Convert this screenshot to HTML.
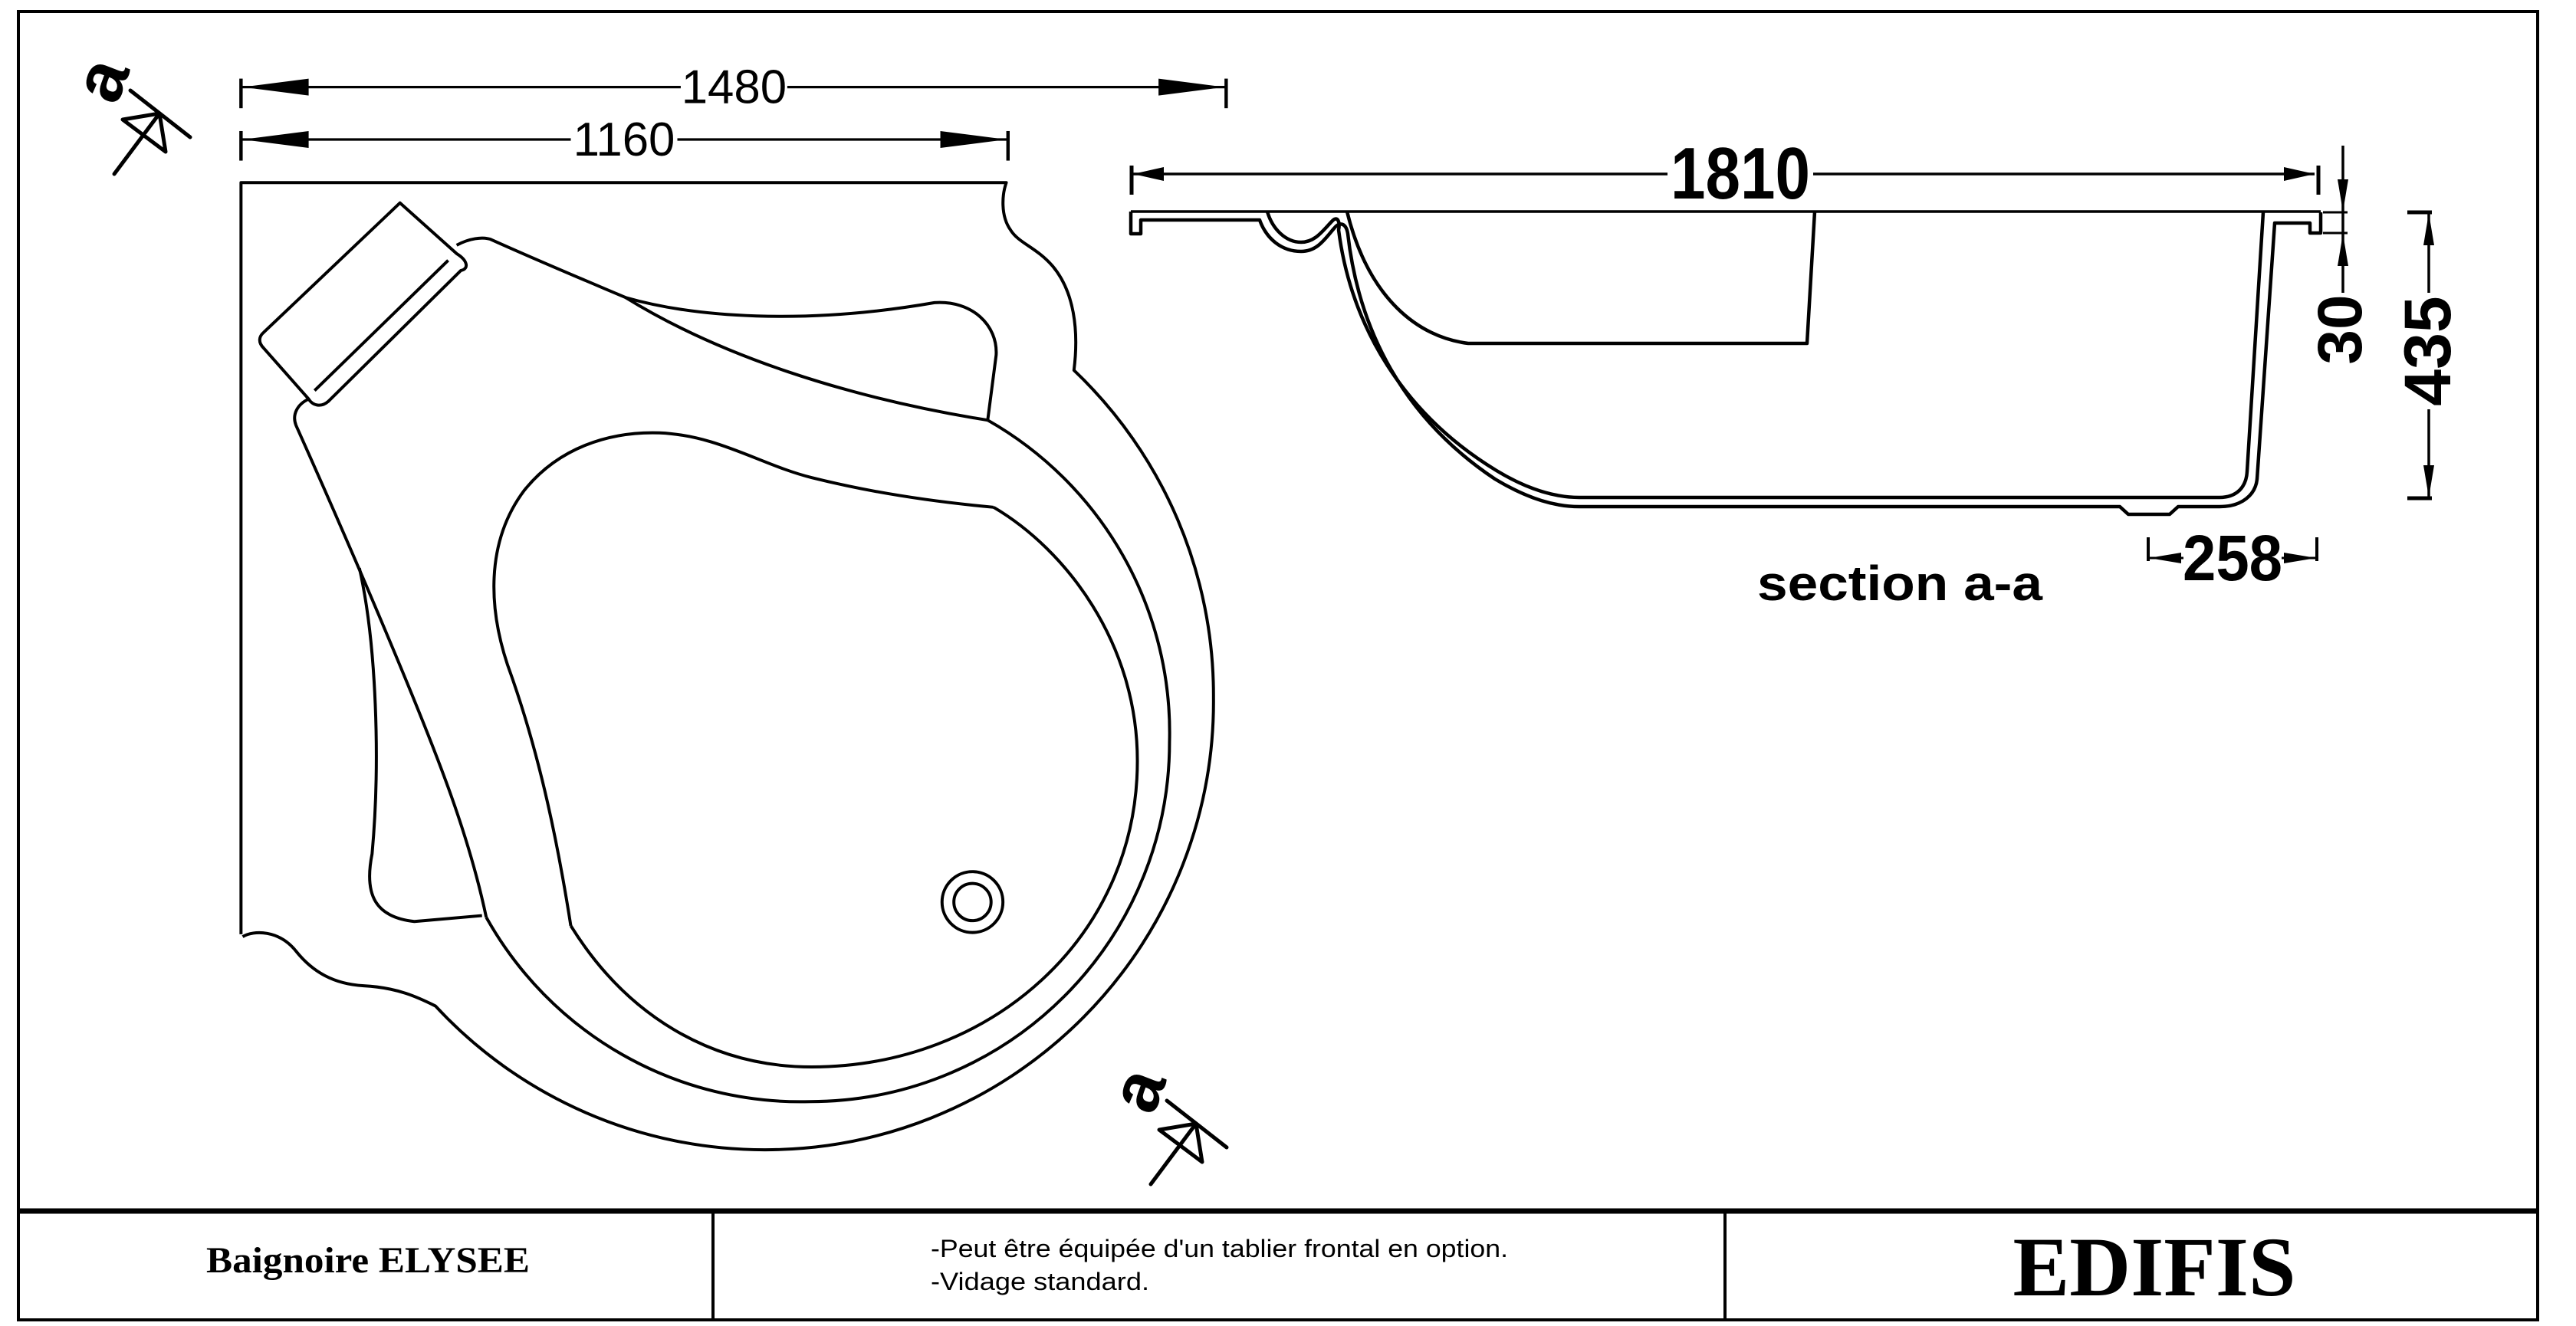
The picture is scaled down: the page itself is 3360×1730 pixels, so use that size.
<!DOCTYPE html>
<html><head><meta charset="utf-8"><style>html,body{margin:0;padding:0;background:#fff}svg{display:block}</style></head>
<body>
<svg width="3360" height="1730" viewBox="0 0 3360 1730" xmlns="http://www.w3.org/2000/svg" font-family="Liberation Sans, Arial, sans-serif">
<rect x="0" y="0" width="3360" height="1730" fill="#fff"/>
<rect x="24" y="15" width="3286" height="1707" fill="none" stroke="#000" stroke-width="4"/>
<line x1="24" y1="1580" x2="3310" y2="1580" stroke="#000" stroke-width="7"/>
<line x1="930" y1="1580" x2="930" y2="1722" stroke="#000" stroke-width="4"/>
<line x1="2250" y1="1580" x2="2250" y2="1722" stroke="#000" stroke-width="4"/>
<text x="480" y="1660" font-family="Liberation Serif, serif" font-weight="bold" font-size="48" text-anchor="middle" textLength="422" lengthAdjust="spacingAndGlyphs">Baignoire ELYSEE</text>
<text x="1214" y="1640" font-size="32" textLength="753" lengthAdjust="spacingAndGlyphs">-Peut être équipée d'un tablier frontal en option.</text>
<text x="1214" y="1683" font-size="32" textLength="285" lengthAdjust="spacingAndGlyphs">-Vidage standard.</text>
<text x="2810" y="1690" font-family="Liberation Serif, serif" font-weight="bold" font-size="110" text-anchor="middle" textLength="369" lengthAdjust="spacingAndGlyphs">EDIFIS</text>

<g id="sec" stroke="#000" stroke-width="5" fill="none" stroke-linecap="round">
<line x1="170" y1="118" x2="248" y2="179"/>
<line x1="149" y1="227" x2="208" y2="148"/>
<polygon points="160,156 208,148 216,198" stroke-linejoin="round"/>
<text x="0" y="0" transform="translate(132,104) rotate(-69)" font-size="92" font-weight="bold" text-anchor="middle" dominant-baseline="central" fill="#000" stroke="none">a</text>
</g>
<use href="#sec" transform="translate(1352,1318)"/>

<g transform="scale(1.103)" fill="none" stroke="#000" stroke-width="3.6" stroke-linejoin="round">
<line x1="285" y1="103" x2="1450" y2="103" stroke-width="3"/>
<line x1="285" y1="93" x2="285" y2="128" stroke-width="4"/>
<line x1="1450" y1="93" x2="1450" y2="128" stroke-width="4"/>
<polygon points="287,103 365,93 365,113" fill="#000" stroke="none"/>
<polygon points="1448,103 1370,93 1370,113" fill="#000" stroke="none"/>
<rect x="805" y="78" width="126" height="48" fill="#fff" stroke="none"/>
<text x="868" y="122" font-size="56" text-anchor="middle" fill="#000" stroke="none">1480</text>
<line x1="285" y1="165" x2="1192" y2="165" stroke-width="3"/>
<line x1="285" y1="155" x2="285" y2="190" stroke-width="4"/>
<line x1="1192" y1="155" x2="1192" y2="190" stroke-width="4"/>
<polygon points="287,165 365,155 365,175" fill="#000" stroke="none"/>
<polygon points="1190,165 1112,155 1112,175" fill="#000" stroke="none"/>
<rect x="675" y="140" width="126" height="48" fill="#fff" stroke="none"/>
<text x="738" y="184" font-size="56" text-anchor="middle" fill="#000" stroke="none">1160</text>
<path d="M285,1105 L285,216 L1190,216 C1185,230 1183,255 1195,272 C1205,288 1225,292 1245,315 C1270,345 1276,390 1270,438 A530,530 0 0 1 1435,825 A530,530 0 0 1 905,1360 A530,530 0 0 1 515,1190 C495,1180 470,1168 430,1166 C395,1164 370,1150 350,1125 C330,1100 300,1100 287,1108"/>
<path d="M1168,497 A425,425 0 0 1 1383,878 A425,425 0 0 1 958,1303 A425,425 0 0 1 575,1085"/>
<path d="M1175,600 C1260,650 1345,760 1345,900 C1345,1110 1170,1262 960,1262 C840,1262 740,1200 675,1095"/>
<path d="M675,1095 C660,1000 640,900 605,800 C575,720 575,640 620,580 C660,530 720,510 780,512 C850,515 900,550 960,565 C1040,585 1120,595 1175,600"/>
<path d="M540,290 C555,282 570,280 580,283 C640,310 700,335 740,352 C820,375 950,385 1105,358 C1150,355 1180,385 1178,420 L1168,497"/>
<path d="M740,352 C850,420 1000,470 1168,497"/>
<path d="M473,240 L540,300 C553,308 555,318 545,320 L388,475 C380,482 370,480 365,472 L312,412 C305,405 306,398 312,393 Z"/>
<path d="M530,308 L372,462"/>
<path d="M365,472 C352,478 345,490 350,503 C380,570 420,660 470,780 C520,900 555,990 575,1085"/>
<path d="M425,672 C445,760 450,900 440,1010 C430,1060 445,1085 490,1090 L570,1083"/>
<circle cx="1150" cy="1067" r="36"/>
<circle cx="1150" cy="1067" r="22"/>
</g>

<g fill="none" stroke="#000" stroke-width="4.5" stroke-linejoin="round">
<line x1="1478" y1="227" x2="3019" y2="227" stroke-width="3.5"/>
<line x1="1476" y1="216" x2="1476" y2="254" stroke-width="5"/>
<line x1="3024" y1="216" x2="3024" y2="254" stroke-width="5"/>
<polygon points="1478,227 1518,218 1518,236" fill="#000" stroke="none"/>
<polygon points="3019,227 2979,218 2979,236" fill="#000" stroke="none"/>
<rect x="2175" y="185" width="190" height="80" fill="#fff" stroke="none"/>
<text x="2270" y="259" font-family="Liberation Sans Narrow, Liberation Sans, sans-serif" font-weight="bold" font-size="96" text-anchor="middle" textLength="182" lengthAdjust="spacingAndGlyphs" fill="#000" stroke="none">1810</text>

<line x1="1475" y1="276" x2="3027" y2="276" stroke-width="3.5"/>
<path d="M1475,276 L1475,305 L1488,305 L1488,287 L1643,287 C1652,312 1672,328 1697,328 C1718,328 1728,312 1740,298 C1748,288 1756,292 1758,305 C1772,430 1830,545 1950,625 C1995,652 2030,661 2060,661 L2765,661 L2776,671 L2830,671 L2841,661 L2895,661 C2925,661 2942,645 2944,625 L2967,291 L3013,291 L3013,304 L3027,304 L3027,277"/>
<path d="M1653,276 C1660,300 1678,316 1697,316 C1716,316 1726,300 1738,288 C1745,281 1748,290 1746,300 C1762,425 1830,540 1952,614 C1995,640 2030,649 2060,649 L2895,649 C2918,649 2930,635 2931,615 L2952,277"/>
<path d="M1757,276 C1785,390 1850,440 1915,448 L2357,448 L2367,276"/>

<line x1="3030" y1="277" x2="3062" y2="277" stroke-width="3"/>
<line x1="3030" y1="304" x2="3062" y2="304" stroke-width="3"/>
<line x1="3056" y1="190" x2="3056" y2="382" stroke-width="3.5"/>
<polygon points="3056,276 3049,234 3063,234" fill="#000" stroke="none"/>
<polygon points="3056,305 3049,347 3063,347" fill="#000" stroke="none"/>
<text x="0" y="0" transform="translate(3080,430) rotate(-90)" font-weight="bold" font-size="82" text-anchor="middle" fill="#000" stroke="none">30</text>
<line x1="3140" y1="277" x2="3172" y2="277" stroke-width="5"/>
<line x1="3140" y1="650" x2="3172" y2="650" stroke-width="5"/>
<line x1="3168" y1="277" x2="3168" y2="382" stroke-width="3.5"/>
<line x1="3168" y1="534" x2="3168" y2="650" stroke-width="3.5"/>
<polygon points="3168,278 3161,320 3175,320" fill="#000" stroke="none"/>
<polygon points="3168,649 3161,607 3175,607" fill="#000" stroke="none"/>
<text x="0" y="0" transform="translate(3196,458) rotate(-90)" font-weight="bold" font-size="86" text-anchor="middle" fill="#000" stroke="none">435</text>
<line x1="2802" y1="701" x2="2802" y2="732" stroke-width="4"/>
<line x1="3022" y1="701" x2="3022" y2="732" stroke-width="4"/>
<line x1="2802" y1="728" x2="3022" y2="728" stroke-width="3"/>
<polygon points="2803,728 2845,721 2845,735" fill="#000" stroke="none"/>
<polygon points="3021,728 2979,721 2979,735" fill="#000" stroke="none"/>
<rect x="2848" y="695" width="128" height="66" fill="#fff" stroke="none"/>
<text x="2912" y="757" font-weight="bold" font-size="84" text-anchor="middle" textLength="130" lengthAdjust="spacingAndGlyphs" fill="#000" stroke="none">258</text>
<text x="2478" y="783" font-weight="bold" font-size="64" text-anchor="middle" textLength="372" lengthAdjust="spacingAndGlyphs" fill="#000" stroke="none">section a-a</text>
</g>
</svg>
</body></html>
